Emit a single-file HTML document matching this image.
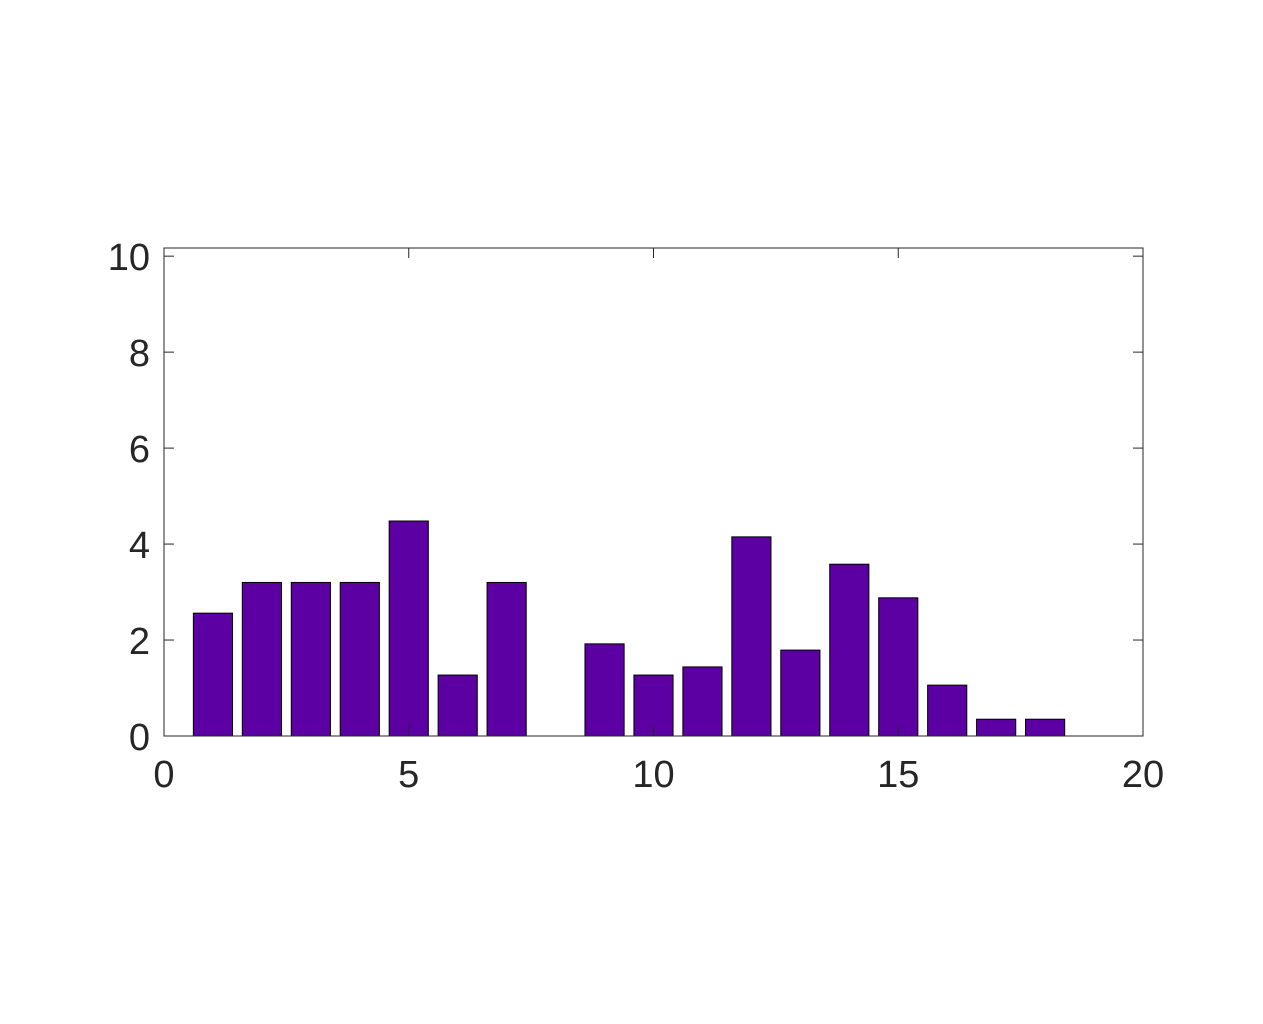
<!DOCTYPE html>
<html><head><meta charset="utf-8"><style>
body{margin:0;background:#fff;}
svg text{font-family:"Liberation Sans",sans-serif;font-size:38px;fill:#262626;}
</style></head><body>
<svg id="chart" width="1263" height="1019"></svg>
<script>
const categories=[1,2,3,4,5,6,7,8,9,10,11,12,13,14,15,16,17,18,19];
const values=[2.56,3.2,3.2,3.2,4.48,1.27,3.2,0,1.92,1.27,1.44,4.15,1.79,3.58,2.88,1.06,0.35,0.35,0];
const xTicks=[0,5,10,15,20];
const yTicks=[0,2,4,6,8,10];
const L=164,R=1143,T=248,B=736,xMin=0,xMax=20,yMin=0,yMax=10.17;
const sx=v=>L+(v-xMin)/(xMax-xMin)*(R-L);
const sy=v=>B-(v-yMin)/(yMax-yMin)*(B-T);
const svg=document.getElementById('chart');
const NS='http://www.w3.org/2000/svg';
function mk(t,a){const e=document.createElementNS(NS,t);for(const k in a)e.setAttribute(k,a[k]);svg.appendChild(e);return e;}
categories.forEach((c,i)=>{
  if(values[i]<=0) return;
  const x0=sx(c-0.4),x1=sx(c+0.4),y=sy(values[i]);
  const r=mk('rect',{x:x0,y:y,width:x1-x0,height:B-y,fill:'#5c00a3',stroke:'#000','stroke-width':1});
  
  
});
const box=mk('rect',{x:L,y:T,width:R-L,height:B-T,fill:'none',stroke:'#262626','stroke-width':1});


xTicks.forEach(v=>{
  const x=sx(v);
  mk('line',{x1:x,y1:B,x2:x,y2:B-10,stroke:'#262626'});
  mk('line',{x1:x,y1:T,x2:x,y2:T+10,stroke:'#262626'});
  const t=mk('text',{x:x,y:B+51,'text-anchor':'middle'});t.textContent=v;
  
  
});
yTicks.forEach(v=>{
  const y=sy(v);
  mk('line',{x1:L,y1:y,x2:L+10,y2:y,stroke:'#262626'});
  mk('line',{x1:R,y1:y,x2:R-10,y2:y,stroke:'#262626'});
  const t=mk('text',{x:L-14,y:y+14,'text-anchor':'end'});t.textContent=v;
  
  
});
</script>
</body></html>
